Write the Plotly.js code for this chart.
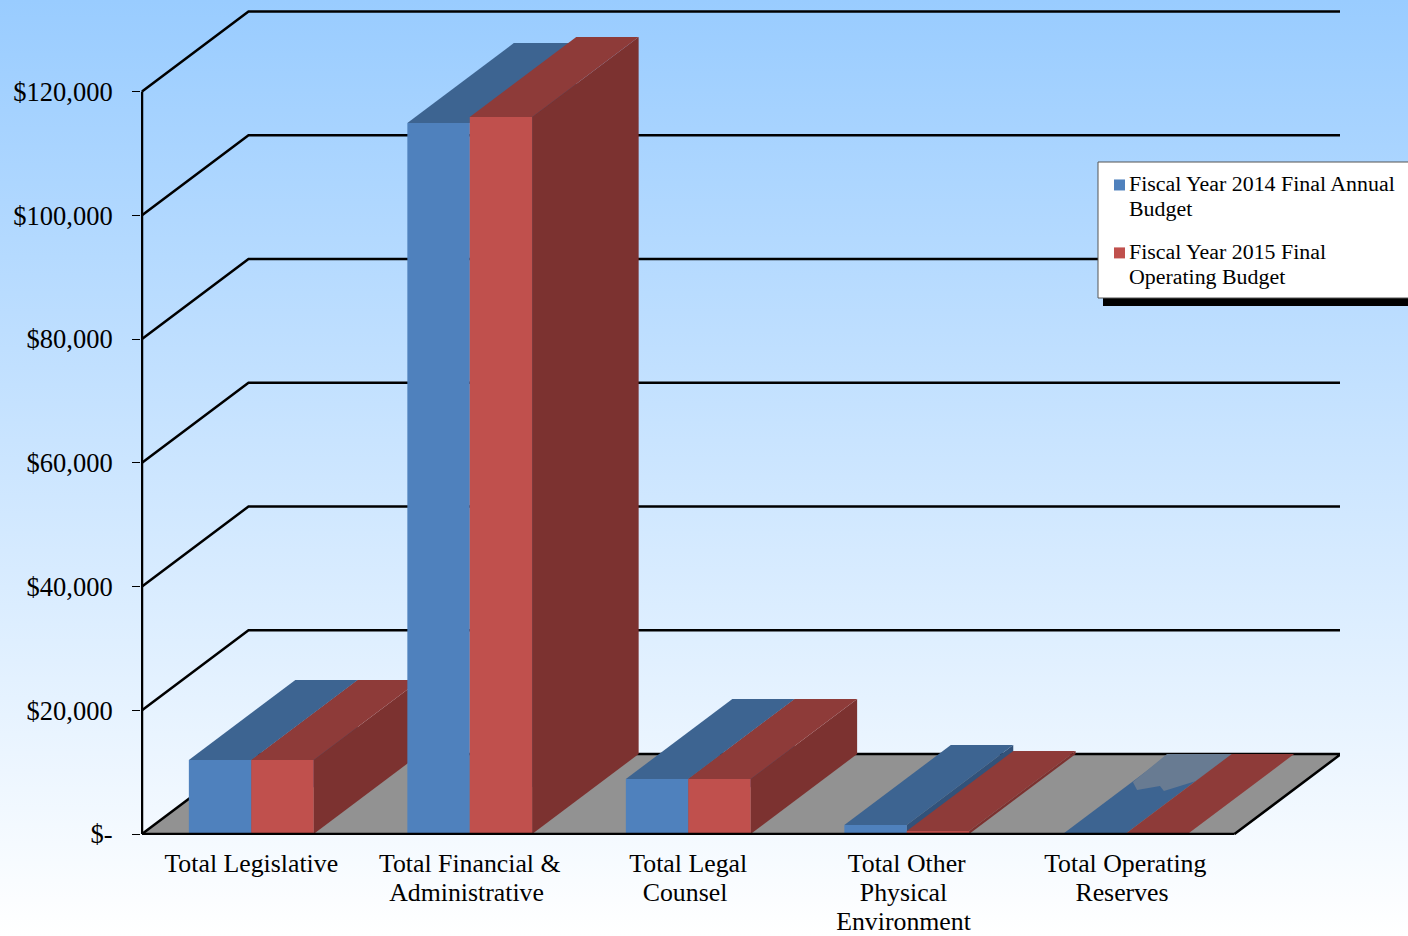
<!DOCTYPE html>
<html>
<head>
<meta charset="utf-8">
<script src="https://cdn.plot.ly/plotly-3.0.1.min.js"></script>
<style>
  html, body { margin: 0; padding: 0; overflow: hidden; }
  #chart { width: 1408px; height: 936px; background: linear-gradient(#99CCFF, #FFFFFF); }
</style>
</head>
<body>
<div id="chart"></div>
<script>
// Budget categories, positioned along the axis at 0.5, 1.5, ...
const categories = [
  "Total Legislative",
  "Total Financial &amp;<br>Administrative\u00a0",
  "Total Legal<br>Counsel\u00a0",
  "Total Other<br>Physical\u00a0<br>Environment\u00a0",
  "Total Operating<br>Reserves\u00a0"
];
const fy2014 = [11960, 114900, 8890, 1450, 0];
const fy2015 = [11960, 115880, 8890, 480, 0];
const seriesNames = ["Fiscal Year 2014 Final Annual<br>Budget", "Fiscal Year 2015 Final<br>Operating Budget"];
const tickValues = [0, 20000, 40000, 60000, 80000, 100000, 120000];
const tickLabels = ["$-", "$20,000", "$40,000", "$60,000", "$80,000", "$100,000", "$120,000"];

// Worn-out part of the last blue top, in axis units
const fadeX = [4.535, 4.554, 4.659, 4.677, 4.824, 4.998, 4.691];
const fadeY = [8404, 7111, 7758, 6949, 8566, 12929, 12929];

// Oblique projection: how far the back plane sits from the front plane, in axis units
const depthX = 0.4874;
const depthY = 12929;
const barWidth = 0.2856;

const colors = {
  blue: { front: "#4F81BD", top: "#3D6491", side: "#32527A" },
  red: { front: "#C0504D", top: "#8E3B39", side: "#7C3230" },
  floor: "#929292",
  fade: "#687B92"
};

const traces = [];

function face(xs, ys, color) {
  traces.push({
    x: xs.concat(xs[0]), y: ys.concat(ys[0]),
    type: "scatter", mode: "lines", fill: "toself", fillcolor: color,
    line: { width: 0, color: color }, showlegend: false, hoverinfo: "skip"
  });
}
function stroke(xs, ys) {
  traces.push({
    x: xs, y: ys, type: "scatter", mode: "lines",
    line: { width: 2.5, color: "#000000" }, showlegend: false, hoverinfo: "skip", cliponaxis: false
  });
}

// Walls: each gridline runs up the side wall, then along the back wall
tickValues.slice(1).forEach(v => stroke([0, depthX, 5 + depthX], [v, v + depthY, v + depthY]));

// Floor
face([0, 5, 5 + depthX, depthX], [0, 0, depthY, depthY], colors.floor);
stroke([0, depthX, 5 + depthX, 5], [0, depthY, depthY, 0]);

// One box: side and top in depth, front face last
function box(x0, x1, h, c) {
  face([x1, x1 + depthX, x1 + depthX, x1], [0, depthY, h + depthY, h], c.side);
  face([x0, x1, x1 + depthX, x0 + depthX], [h, h, h + depthY, h + depthY], c.top);
  face([x0, x1, x1, x0], [0, 0, h, h], c.front);
}

categories.forEach((_, i) => {
  const centre = i + 0.5;
  box(centre - barWidth, centre, fy2014[i], colors.blue);
  if (i === categories.length - 1) face(fadeX, fadeY, colors.fade);
  box(centre, centre + barWidth, fy2015[i], colors.red);
});

// Front edge and vertical axis sit over the boxes
stroke([0, 5], [0, 0]);
stroke([0, 0], [0, tickValues[tickValues.length - 1]]);

// Legend keys
[[seriesNames[0], colors.blue.front, "a"], [seriesNames[1], colors.red.front, "b"]].forEach(k => {
  traces.push({
    x: [null], y: [null], type: "scatter", mode: "markers", name: k[0], legendgroup: k[2],
    marker: { symbol: "square", size: 11, color: k[1] }, showlegend: true, hoverinfo: "skip"
  });
});

const W = 1408, H = 936, L = 141, R = 68, T = 0, B = 101;
const px = x => (x - L) / (W - L - R);
const py = y => (H - B - y) / (H - B - T);

const layout = {
  width: W, height: H,
  margin: { l: L, r: R, t: T, b: B, autoexpand: false },
  paper_bgcolor: "rgba(0,0,0,0)",
  plot_bgcolor: "rgba(0,0,0,0)",
  font: { family: "Liberation Serif, Times New Roman, serif", color: "#000000" },
  xaxis: {
    range: [-1 / 218.5, 1198 / 218.5], showgrid: false, zeroline: false, showline: false,
    tickmode: "array", tickvals: categories.map((_, i) => i + 0.5), ticktext: categories,
    ticks: "", tickangle: 0, tickfont: { size: 25.8 }, ticklabelstandoff: 10, ticklabelshift: -2.4
  },
  yaxis: {
    range: [-1 / 6.1875 * 1000, 834 / 6.1875 * 1000], showgrid: false, zeroline: false, showline: false,
    tickmode: "array", tickvals: tickValues, ticktext: tickLabels,
    ticks: "outside", ticklen: 8, tickwidth: 1, tickcolor: "#000000",
    tickfont: { size: 26.5 }, ticklabelstandoff: 14
  },
  legend: {
    x: px(1089), y: py(162), xanchor: "left", yanchor: "top",
    bgcolor: "rgba(0,0,0,0)", borderwidth: 0, traceorder: "grouped", tracegroupgap: 8,
    font: { size: 21.9 }, itemclick: false, itemdoubleclick: false
  },
  shapes: [
    { type: "rect", xref: "paper", yref: "paper", x0: px(1103), x1: px(1420), y0: py(168), y1: py(306),
      fillcolor: "#000000", line: { width: 0 } },
    { type: "rect", xref: "paper", yref: "paper", x0: px(1098), x1: px(1420), y0: py(162), y1: py(298),
      fillcolor: "#FFFFFF", line: { width: 1, color: "#555555" } }
  ],
  showlegend: true
};

Plotly.newPlot("chart", traces, layout, { displayModeBar: false }).then(() => {
  // Tighter leading than the library default for the wrapped labels
  document.querySelectorAll(".xtick text").forEach(t => {
    t.querySelectorAll("tspan.line").forEach((s, i) => s.setAttribute("dy", (i * 1.124) + "em"));
  });
  document.querySelectorAll(".legendtext").forEach(t => {
    t.querySelectorAll("tspan.line").forEach((s, i) => s.setAttribute("dy", (i * 1.142) + "em"));
  });
  // Legend keys line up with the first text line
  document.querySelectorAll(".legend .legendsymbols").forEach(s => s.setAttribute("transform", "translate(10.5,-12)"));
});
</script>
</body>
</html>
